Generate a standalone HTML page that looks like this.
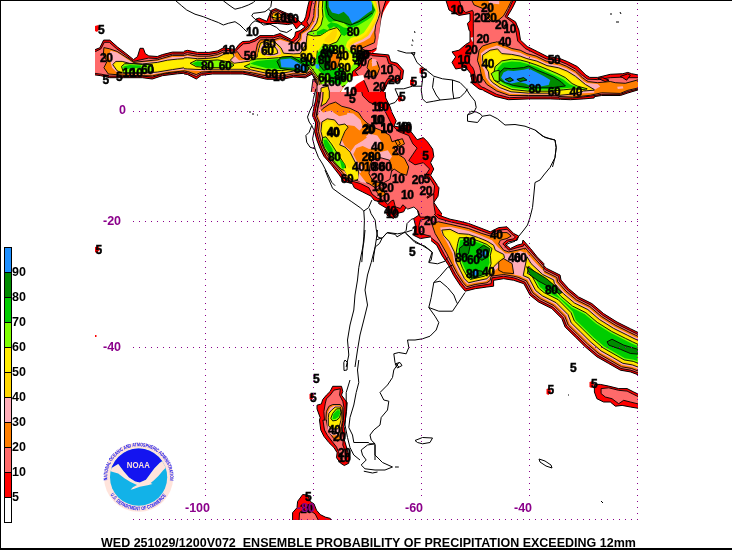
<!DOCTYPE html>
<html><head><meta charset="utf-8"><title>Ensemble probability of precipitation</title>
<style>
html,body{margin:0;padding:0;background:#fff;}
body{width:732px;height:550px;overflow:hidden;font-family:"Liberation Sans",sans-serif;}
svg{display:block}
svg text{filter:blur(0px)}
.lg{font:bold 12.5px "Liberation Sans",sans-serif;fill:#000}
.gl{font:bold 12.5px "Liberation Sans",sans-serif;fill:#8b008b}
.cl{font:bold 12px "Liberation Sans",sans-serif;fill:#000;letter-spacing:-0.4px;stroke:#000;stroke-width:.45px}
.tt{font:bold 12.5px "Liberation Sans",sans-serif;fill:#000;white-space:pre}
.rt{font:bold 5.2px "Liberation Sans",sans-serif;fill:#1515f0}
</style></head><body>
<svg width="732" height="550" viewBox="0 0 732 550">
<rect width="732" height="550" fill="#fff"/>
<defs><clipPath id="mapclip"><rect x="95" y="1" width="543" height="519"/></clipPath></defs>

<g clip-path="url(#mapclip)">
<defs><clipPath id="t0"><rect x="95" y="30" width="89" height="69"/></clipPath><clipPath id="t1"><rect x="184" y="20" width="66" height="79"/></clipPath><clipPath id="t2"><rect x="250" y="0" width="122" height="92"/></clipPath><clipPath id="t3"><rect x="372" y="0" width="70" height="92"/></clipPath><clipPath id="t4"><rect x="250" y="92" width="192" height="170"/></clipPath><clipPath id="t5"><rect x="431" y="214" width="207" height="206"/></clipPath><clipPath id="t6"><rect x="442" y="0" width="196" height="142"/></clipPath><clipPath id="t7"><rect x="290" y="370" width="92" height="119"/></clipPath><clipPath id="t8"><rect x="280" y="480" width="65" height="40"/></clipPath><clipPath id="t9"><rect x="95" y="1" width="543" height="519"/></clipPath></defs>
<g clip-path="url(#t0)">
<path d="M92,50.1 95.1,49.6 99.8,47.8 103.6,40.1 109.8,40.1 117.6,47.1 125.9,53.4 133.5,59.6 137.5,56.6 140,48.3 143.3,48.3 145.3,53.6 148.8,55.9 157.3,56.5 162.4,54.6 172.4,52.1 185,52.1 185,73.2 177.4,73.8 162.4,75.7 152.3,79 142.3,77.7 123.4,77.7 109.6,77.7 100.8,75.7 92,74.5Z" fill="#ff0000" stroke="#000" stroke-width="1.0" stroke-linejoin="round"/>
<path d="M92,51.6 95.8,51.4 101,48.8 104.3,42.3 109.3,42.3 116.6,48.8 125.4,55.1 133.5,61.4 148.5,58.1 157.3,58.5 162.4,56.6 172.4,54.1 185,54.1 185,71.7 177.4,72.3 162.4,74.2 152.3,77.1 142.3,76.1 123.4,76.1 109.6,76.1 101.3,74.2 92,73Z" fill="#ff6a6a" stroke="#000" stroke-width="0.9" stroke-linejoin="round"/>
<path d="M103.9,47.6 109.6,48.8 117.1,51.4 129.7,59.5 133.5,62.4 157.3,59.8 172.4,55.4 185,55.4 185,70.8 167.4,72.7 152.3,75.9 123.4,75.2 108.3,74 103.9,67.7 107.1,61.4 103.3,55.1Z" fill="#ff7f00" stroke="#000" stroke-width="0.9" stroke-linejoin="round"/>
<path d="M110.8,50.7 117.1,52.6 124.7,57.6 133.5,63.2 157.3,61 172.4,57 185,56.6 185,69.6 167.4,71.5 152.3,74.6 129.7,74.2 117.1,72.7 112.1,67.7 110.8,62.7 108.3,55.1Z" fill="#ffaeb9"/>
<path d="M112.7,64.5 115.9,61.4 122.2,61.4 129.7,63.4 142.3,63.9 157.3,62.4 167.4,60.2 177.4,59.1 185,58.6 185,67.7 172.4,69.6 157.3,72.1 142.3,73.3 123.4,73.3 117.1,70.8Z" fill="#ffd700" stroke="#000" stroke-width="0.9" stroke-linejoin="round"/>
<path d="M114.6,64.9 117.1,62.7 122.2,62.7 129.7,64.4 142.3,64.9 157.3,63.4 167.4,61.2 177.4,60.2 185,59.6 185,66.4 172.4,68.3 157.3,70.8 142.3,72.3 123.4,72.3 117.8,69.9Z" fill="#ffee00"/>
<path d="M121.5,66.4 124.7,63.7 133.5,63.7 142.3,64.5 152.3,64.5 153.6,71.5 142.3,72.7 123.4,72.7Z" fill="#7fff00" stroke="#000" stroke-width="0.9" stroke-linejoin="round"/>
<path d="M123.4,66.4 129.7,64.9 141,65.4 141,67.7 123.4,69.2Z" fill="#00cd00"/>
</g>
<g clip-path="url(#t1)">
<path d="M180,52.4 187.5,50.3 197.6,52.4 208.9,52.4 217.7,50.9 223.3,47.8 235.3,49.4 238.8,44.6 242.6,41.5 250.4,41.1 255.4,37.6 260.4,37.6 260.4,79 255.4,76.5 252.9,75.8 242.8,74 230.3,74 212.7,74 201.4,75.3 196.3,79 187.5,74.5 180,73.3Z" fill="#ff0000" stroke="#000" stroke-width="1.0" stroke-linejoin="round"/>
<path d="M180,54.5 187.5,52.7 197.6,54.5 208.9,54.5 217.7,52.9 223.3,50.2 235.3,51.4 239.7,47 243.4,43.9 250.4,43.2 255.4,40.1 260.4,40.1 260.4,77.2 255.4,74.9 242.8,72.1 230.3,72.1 212.7,72.1 201.4,73.4 196.3,76.5 187.5,72.8 180,71.5Z" fill="#ff6a6a" stroke="#000" stroke-width="0.9" stroke-linejoin="round"/>
<path d="M180,56.4 187.5,54.5 197.6,56.2 208.9,56.2 217.7,54.5 223.3,52 235.3,52.9 237.2,51.4 241.6,57.7 245.3,59.2 250.4,58.7 260.4,57.2 260.4,75.3 255.4,73.6 242.8,71.3 230.3,71.3 212.7,71.3 201.4,72.1 196.3,74.6 187.5,71.5 180,70.3Z" fill="#ff7f00" stroke="#000" stroke-width="0.9" stroke-linejoin="round"/>
<path d="M180,57.4 187.5,55.8 197.6,57.4 208.9,57.4 217.7,55.8 223.3,53.3 227.7,52 234,52.9 235.3,56.4 239,60.2 250.4,59.9 260.4,58.3 260.4,73.4 255.4,72.4 242.8,70.3 230.3,70.3 212.7,70.3 201.4,70.9 187.5,70.3 180,69.2Z" fill="#ffaeb9"/>
<path d="M180,58.3 187.5,57.7 197.6,58.7 208.9,58.3 217.7,57.1 223.3,54.5 227.7,52.9 233.4,53.7 234,56.4 230.3,60.2 234,63.3 240.3,62.5 260.4,59.4 260.4,71.5 255.4,70.9 242.8,69.2 230.3,69.2 212.7,69.2 201.4,69.6 187.5,69 180,68.4Z" fill="#ffd700" stroke="#000" stroke-width="0.9" stroke-linejoin="round"/>
<path d="M180,59.6 187.5,58.9 197.6,59.9 208.9,59.6 217.7,58.3 221.5,57.7 225.2,58.9 230.3,61.5 232.8,64 240.3,63.3 260.4,60.5 260.4,70.3 255.4,69.6 242.8,68.4 230.3,68.4 212.7,68.4 201.4,68.7 187.5,67.7 180,67.1Z" fill="#ffee00"/>
<path d="M190.1,63.3 196.3,60.2 208.9,60.5 217.7,59.9 230.3,62.1 234,65.2 230.3,67.7 208.9,67.7 196.3,66.7Z M244.1,66.5 250.4,63.5 260.4,60.5 260.4,70.3 250.4,69Z" fill="#7fff00" stroke="#000" stroke-width="0.9" stroke-linejoin="round"/>
<path d="M192.6,63.3 197.6,61.2 202.6,62.1 201.4,65.9 196.3,65.9Z M251.6,66.5 260.4,63.3 260.4,69.6Z" fill="#00cd00"/>
</g>
<g clip-path="url(#t2)">
<path d="M309.9,-1.7 307.7,6.7 305.7,16.7 303.9,20.9 300.2,23.4 305.2,26.8 300.2,30.5 295.5,32.1 294.9,36 291.8,39.8 280.1,33.5 273.4,35.6 260,35.6 255,39 248.3,41.5 248.3,74.8 266.7,79.3 281.8,79.3 293.5,77 305.2,77.8 312.3,74 314.9,80.3 316.1,93.7 373.8,93.7 373.8,-1.7Z" fill="#ff0000" stroke="#000" stroke-width="1.0" stroke-linejoin="round"/>
<path d="M312.9,-1.7 310.9,6.7 309.2,16.7 306.9,21.8 308.6,25.1 305.2,29.3 299.4,33.5 298.5,37.7 293.2,42.2 280.1,36 273.4,37.8 260,37.8 255,41.2 248.3,43.5 248.3,73.3 266.7,77.7 281.8,77.7 293.5,75.3 305.2,76.2 311.3,72.3 315.9,80.3 317.3,93.7 373.8,93.7 373.8,-1.7Z" fill="#ff6a6a" stroke="#000" stroke-width="0.9" stroke-linejoin="round"/>
<path d="M315.9,-1.7 314.3,8.4 313.6,16.7 311.9,21.4 307.7,28.5 300.5,33.5 299.9,38.8 295.5,43.5 280.1,37.8 273.4,39.8 260.4,39.8 257.5,43.8 255,55.2 248.3,56.1 248.3,72 266.7,76 281.8,76 293.5,73.8 305.2,74.6 310.6,71.1 316.9,80.3 318.6,93.7 373.8,93.7 373.8,-1.7Z" fill="#ff7f00" stroke="#000" stroke-width="0.9" stroke-linejoin="round"/>
<path d="M317.6,-1.7 316.3,8.4 315.9,16.7 314.3,22.1 309.6,29.5 302.2,34.1 301.5,39.8 297.2,44.9 280.1,39.7 273.4,41.7 262.7,41.7 258.7,45.2 256.7,56.1 248.3,56.9 248.3,70.6 266.7,74.6 281.8,74.6 293.5,72.5 305.2,73.3 310.3,70 317.8,80.3 319.6,93.7 373.8,93.7 373.8,-1.7Z" fill="#ffaeb9"/>
<path d="M319.3,-1.7 318.3,8.4 318.3,16.7 316.6,22.8 311.6,30.1 306.9,36 306.2,43.5 303.2,48.5 300.2,53.6 293.5,53.9 283.5,53.2 281.1,47.9 275.1,42.2 266.7,40.5 260.4,43.2 258.4,50.2 257.5,56.9 248.3,57.7 248.3,69.3 266.7,73.3 281.8,73.3 293.5,71.1 305.2,72 309.9,68.6 318.6,80.3 320.6,93.7 373.8,93.7 373.8,-1.7Z" fill="#ffd700" stroke="#000" stroke-width="0.9" stroke-linejoin="round"/>
<path d="M262.6,43.8 266.7,42.2 274.8,43.8 279.5,48.9 281.1,53.9 275.1,56.1 266.7,56.1 261,53.2 259.7,48.5Z" fill="#ffaeb9"/>
<path d="M264.7,45.5 268.4,43.8 273.8,45.5 277.1,49.9 277.8,53.2 273.4,54.6 267.7,54.6 263.4,51.9 262.7,48.5Z" fill="#ffd700" stroke="#000" stroke-width="0.9" stroke-linejoin="round"/>
<path d="M321,-1.7 320.3,8.4 320.3,16.7 318.6,23.4 313.6,30.8 308.9,36.8 308.2,43.8 307.7,50.2 305.2,56.1 293.5,56.1 283.5,55.6 275.1,56.9 266.7,56.9 258.4,51.9 257.5,57.7 248.3,58.6 248.3,67.8 266.7,71.6 281.8,72 293.5,70 305.2,70.6 309.6,67.3 319.6,80.3 322,93.7 373.8,93.7 373.8,-1.7Z M265.9,46.9 268.7,45.2 273.1,46.9 275.8,50.2 276.1,52.6 273.1,53.6 268.4,53.6 265.1,51.2Z" fill="#ffee00"/>
<path d="M323,-1.7 322.3,8.4 323,16.7 321,25.1 316.9,30.1 308.6,32.1 306.9,34.3 313.6,36 320.3,35.5 328.7,30.1 337,27.6 341.7,33.5 337,41.8 328.7,45.2 322,43.8 317.3,50.2 316.9,57.7 312.3,62.8 300.2,57.7 288.5,56.6 278.5,57.7 266.7,58.6 256.7,58.9 248.3,60.6 248.3,66.6 266.7,70.3 281.8,70.6 293.5,69 305.2,69.5 310.3,66.6 320.3,80.3 323,93.7 373.8,93.7 373.8,-1.7Z" fill="#7fff00" stroke="#000" stroke-width="0.9" stroke-linejoin="round"/>
<path d="M322,37.7 328.7,33.5 337,29.3 339.5,33.5 336.2,41 328.7,43.8 323.6,43.2 318.6,50.2 311.9,51.9 308.9,46.9 313.6,40.2Z" fill="#ffee00"/>
<path d="M324.7,38.8 329.6,33.9 333.7,29.3 337.4,28.9 336.6,35.5 333.7,41.2 328,42.9 324.3,41.2Z" fill="#ffd700"/>
<path d="M325,-1.7 324.3,8.4 325.6,16.7 328.7,21.8 337,23.4 343.7,27.6 350.4,28.5 358.8,25.1 367.2,20.1 373.8,15.1 373.8,-1.7Z M316.9,31.8 323.6,28.8 328.7,30.5 322,34.3 316.9,35.1Z M327.1,25.2 332,21.6 337.8,21.1 343.5,22.4 348.4,27.3 348,33.4 344.3,35.9 340.7,34.3 339.4,28.1 333.7,26.5 329.6,28.9Z M320.6,30.6 323.9,29.8 325.1,32.2 321.4,33.4Z M256.7,61.1 266.7,59.9 278.5,58.9 286,56.9 300.2,58.6 312.3,63.6 308.6,66.1 293.5,67.8 281.8,69 266.7,68.3 256.7,65.6 250,63.6Z M316.9,53.6 323.6,48.5 330.3,47.7 337,50.2 340.4,56.9 337,66.9 330.3,73.6 323.6,75.3 318.6,70.3 316.1,61.9Z" fill="#00cd00"/>
<path d="M326.7,-1.7 326.3,6.7 328.7,15.1 333.7,19.7 343.7,22.6 350.4,25.1 358.8,21.8 367.2,16.7 373.8,11.7 373.8,-1.7Z M277,61.4 281.4,57 291.5,56.4 302.8,63.3 309,67.7 306.5,72.7 294,70.5 280.2,68.4Z M318.6,56.9 323.6,51.9 328.7,51 333.7,54.4 334.5,61.9 330.3,68.6 323.6,70.3 319.5,65.3Z" fill="#008b00" stroke="#000" stroke-width="0.9" stroke-linejoin="round"/>
<path d="M328.3,-1.7 328.7,6.7 332,12.6 338.7,14.2 343.7,11.7 348.7,16.7 352.1,23.4 358.8,20.1 367.2,13.4 373.8,9.2 373.8,-1.7Z M280.2,59.6 290.2,58.4 294,60.2 300.3,63.9 305.3,66.7 305.3,71.2 294,67.7 281.4,67.2Z M315.3,63.9 319.1,64.5 319.3,68.9 315.8,68.3Z" fill="#1e90ff"/>
<path d="M255.9,19.1 259.2,18 266.9,21.3 269.6,14.2 271.2,10.4 275.6,8.5 280,10.4 288.7,14.2 295.3,17.5 301.8,23.5 296.4,29 293.1,23.5 287.6,24.6 277.8,23.5 270.1,23.5 265.8,23.5 260.3,22.4Z" fill="#ff0000" stroke="#000" stroke-width="1.0" stroke-linejoin="round"/>
<path d="M270.7,14.8 272.3,11.5 276.1,10.1 280,11.8 287.6,15.3 293.1,18.6 294.7,21.9 288.7,22.4 277.8,21.9 270.7,21.3Z" fill="#ff6a6a" stroke="#000" stroke-width="0.9" stroke-linejoin="round"/>
<path d="M271.8,15.3 273.2,12.6 276.7,11.5 280,13.7 282.2,17.5 280,20.2 273.4,20.2Z" fill="#ff7f00" stroke="#000" stroke-width="0.9" stroke-linejoin="round"/>
<path d="M272.9,16.4 274.5,13.7 277.2,13.1 279.1,15.3 277.8,18.6 274,18.8Z" fill="#ffee00"/>
<path d="M370,-1.3 375.1,10.1 371.9,16.3 366.3,23.9 361.3,30.8 357.5,33.3 351.2,34.5 344.9,37.7 341.2,41.5 342.4,50.3 348.7,55.3 363.8,59 486.9,59 486.9,-2.5Z" fill="#7fff00"/>
<path d="M371.3,-1.3 376.3,11.3 373.8,17.6 368.2,26.4 363.8,32.7 358.7,35.8 351.2,37.7 347.4,41.5 345.5,46.5 348.7,50.3 363.8,52.8 363.8,59 486.9,59 486.9,-2.5Z" fill="#ffee00"/>
<path d="M373.8,-1.3 377.6,12.6 375.7,18.8 370.7,27.6 366.3,33.9 361.3,37.7 353.7,40.2 348.7,44 348.1,46.5 351.2,49 363.8,50.9 363.8,59 486.9,59 486.9,-2.5Z" fill="#ffd700"/>
<path d="M375.7,-1.3 378.8,12.6 377,20.1 372.6,28.9 368.2,35.8 362.5,39.6 355,42.7 349.9,45.9 352.5,48.4 363.8,50 363.8,59 486.9,59 486.9,-2.5Z" fill="#ffaeb9"/>
<path d="M377,-1.3 379.5,13.8 378.2,21.4 374.4,29.5 370,37.7 363.8,41.5 357.5,44 352.5,46.5 355,48.4 363.8,49.4 363.8,59 486.9,59 486.9,-2.5Z" fill="#ff7f00"/>
<path d="M378.2,-1.3 380.1,12.6 378.2,18.8 375.7,25.1 374.8,32.7 375.3,37.7 374.4,42.7 366.3,46.2 361.3,48.4 365,50.3 365,59 486.9,59 486.9,-2.5Z" fill="#ff6a6a" stroke="#000" stroke-width="0.9" stroke-linejoin="round"/>
<path d="M386.4,-1.3 383.9,6.3 382,12.6 380.7,25.1 379.5,35.2 377.6,47.7 371.3,50.5 366.3,50.8 366.3,59 486.9,59 486.9,-2.5Z" fill="#ff0000" stroke="#000" stroke-width="1.0" stroke-linejoin="round"/>
<path d="M391.4,-1.3 386.4,6.3 383.2,12.6 381.4,18.8 379.5,31.4 376.3,50.3 370,55.3 370,60.3 486.9,60.3 486.9,-3.8Z" fill="#ffffff"/>
<path d="M335,50.1 343.8,48.8 351.4,53.9 353.9,62.7 348.8,71.5 337.5,71.5 330,67.7 330,55.1Z" fill="#ffee00"/>
<path d="M330,53.9 336.3,52.6 340.1,58.9 337.5,67.7 330,70.2Z" fill="#ff7f00" stroke="#000" stroke-width="0.9" stroke-linejoin="round"/>
<path d="M330,71.5 337.5,67.7 343.8,68.9 345.1,77.7 341.3,84 330,85.3Z" fill="#00cd00"/>
<path d="M330,85.3 337.5,84 341.3,89 337.5,100.4 330,100.4Z" fill="#ffee00"/>
<path d="M337.5,89 345.1,85.3 348.8,89 345.1,100.4 336.3,100.4Z" fill="#ff7f00" stroke="#000" stroke-width="0.9" stroke-linejoin="round"/>
<path d="M352.6,71.5 358.9,66.4 362.9,55.1 367.7,53.2 389,53.2 395.3,61.4 400.4,67.7 404.1,77.7 400.4,85.3 389,89 385.3,100.4 341.3,100.4 343.8,87.8 351.4,80.3Z" fill="#ff0000" stroke="#000" stroke-width="1.0" stroke-linejoin="round"/>
<path d="M355.1,71.5 360.8,67.7 364.5,57 368.9,55.1 387.8,55.1 393.4,62.7 398.5,68.9 401.6,77.7 398.5,83.4 387.8,87.2 384,92.8 380.3,100.4 371.5,100.4 367.7,89 363.9,80.3 358.9,76.5Z" fill="#ff6a6a" stroke="#000" stroke-width="0.9" stroke-linejoin="round"/>
<path d="M367.1,67.7 368.9,60.2 374,57 385.3,57 387.2,62.7 384,68.9 377.7,71.5 370.2,72.1Z" fill="#ff7f00" stroke="#000" stroke-width="0.9" stroke-linejoin="round"/>
<path d="M371.5,62.7 374,58.3 384,57.9 385.3,62 380.3,64.5 374,65.8Z" fill="#ffaeb9"/>
<path d="M343.8,89 350.1,86.5 355.1,90.3 353.9,96.6 347.6,100.4 342.6,100.4Z" fill="#ff6a6a" stroke="#000" stroke-width="0.9" stroke-linejoin="round"/>
<path d="M371.2,52.1 376.7,52.9 373.3,55.1Z" fill="#ffffff"/>
<path d="M316,86 326,83 340,84 343,88 338,94 316,94Z" fill="#ffaeb9"/>
<path d="M321,88 328,86 330,94 321,94Z" fill="#ffd700" stroke="#000" stroke-width="0.9" stroke-linejoin="round"/>
<path d="M313,79 317,84 317,94 311,94Z" fill="#ff6a6a" stroke="#000" stroke-width="0.9" stroke-linejoin="round"/>
<path d="M353,76.5 363,75 364.5,79.5 357,84 351,90 347,96 341,99.5 338.5,96.5 343,88 349,81Z" fill="#ffffff"/>
</g>
<g clip-path="url(#t3)">
<path d="M371.3,-1.3 376.6,-1.3 376.6,17.6 371.3,17.6Z" fill="#008b00"/>
<path d="M370,-1.3 375.1,10.1 371.9,16.3 366.3,23.9 361.3,30.8 357.5,33.3 351.2,34.5 344.9,37.7 341.2,41.5 342.4,50.3 348.7,55.3 363.8,59 486.9,59 486.9,-2.5Z" fill="#7fff00"/>
<path d="M371.3,-1.3 376.3,11.3 373.8,17.6 368.2,26.4 363.8,32.7 358.7,35.8 351.2,37.7 347.4,41.5 345.5,46.5 348.7,50.3 363.8,52.8 363.8,59 486.9,59 486.9,-2.5Z" fill="#ffee00"/>
<path d="M373.8,-1.3 377.6,12.6 375.7,18.8 370.7,27.6 366.3,33.9 361.3,37.7 353.7,40.2 348.7,44 348.1,46.5 351.2,49 363.8,50.9 363.8,59 486.9,59 486.9,-2.5Z" fill="#ffd700"/>
<path d="M375.7,-1.3 378.8,12.6 377,20.1 372.6,28.9 368.2,35.8 362.5,39.6 355,42.7 349.9,45.9 352.5,48.4 363.8,50 363.8,59 486.9,59 486.9,-2.5Z" fill="#ffaeb9"/>
<path d="M377,-1.3 379.5,13.8 378.2,21.4 374.4,29.5 370,37.7 363.8,41.5 357.5,44 352.5,46.5 355,48.4 363.8,49.4 363.8,59 486.9,59 486.9,-2.5Z" fill="#ff7f00"/>
<path d="M378.2,-1.3 380.1,12.6 378.2,18.8 375.7,25.1 374.8,32.7 375.3,37.7 374.4,42.7 366.3,46.2 361.3,48.4 365,50.3 365,59 486.9,59 486.9,-2.5Z" fill="#ff6a6a" stroke="#000" stroke-width="0.9" stroke-linejoin="round"/>
<path d="M386.4,-1.3 383.9,6.3 382,12.6 380.7,25.1 379.5,35.2 377.6,47.7 371.3,50.5 366.3,50.8 366.3,59 486.9,59 486.9,-2.5Z" fill="#ff0000" stroke="#000" stroke-width="1.0" stroke-linejoin="round"/>
<path d="M391.4,-1.3 386.4,6.3 383.2,12.6 381.4,18.8 379.5,31.4 376.3,50.3 370,55.3 370,60.3 486.9,60.3 486.9,-3.8Z" fill="#ffffff"/>
<path d="M370.3,53.2 388.7,54.9 390.7,61.6 397.4,63.3 403.5,70.3 402.5,79 395.4,82.3 388.7,80.7 385.7,87.4 382,93.7 370.3,93.7Z" fill="#ff0000" stroke="#000" stroke-width="1.0" stroke-linejoin="round"/>
<path d="M370.3,55.6 386.7,56.9 388.7,63.6 395.4,65.6 400.8,71.1 399.8,77.3 394.6,80 387.9,78.3 383.7,85.4 379.5,93.7 370.3,93.7Z" fill="#ff6a6a" stroke="#000" stroke-width="0.9" stroke-linejoin="round"/>
<path d="M370.3,60.3 377,61.6 379.5,68.6 377,75.3 370.3,77Z" fill="#ff7f00" stroke="#000" stroke-width="0.9" stroke-linejoin="round"/>
<path d="M370.3,58.6 376.2,59.4 377,65.3 370.3,66.9Z" fill="#ffaeb9"/>
</g>
<g clip-path="url(#t4)">
<path d="M315.7,100 313.6,108.4 312.5,115.7 315.7,123 314.6,131.4 316.7,139.7 319.9,148.1 324,156.4 331.4,164.8 338.7,174.2 343.9,181.5 352.3,183.6 354.3,187.8 362.7,192 371.1,196.2 374.2,200.3 379.1,201.7 378.6,203.5 386.9,208.5 386.9,215.2 393.6,218.5 397,213.5 403.7,211.8 407,205.1 413.7,203.5 417.1,208.7 418.7,215.2 413.7,218.5 415.4,225.2 413.7,235.3 420.4,238.6 430.5,236.9 437.2,243.6 443.8,252 447.2,263.7 447.2,216.9 442.2,214.3 438,208.7 433.8,202.4 438,196.2 439,187.8 437.2,185.6 437.2,185.1 430.6,175.2 433.8,169 430.6,162.7 433.8,156.4 432.7,149.1 427.5,141.8 423.3,137.6 417.1,139.7 410.8,131.4 409.7,124 400.3,127.2 394.1,126.1 396.2,120.9 392,112.5 389.9,106.3 385.7,97.9 384.7,87.5 316.7,87.5Z" fill="#ff0000" stroke="#000" stroke-width="1.0" stroke-linejoin="round"/>
<path d="M341,99.5 338.5,96.5 343,88 349,81 353,76.5 363,75 364.5,79.5 357,84 351,90 347,96Z" fill="#ffffff"/>
<path d="M317.8,100 315.7,108.4 314.6,115.7 317.8,123 316.7,131.4 318.8,139.7 321.9,148.1 326.1,156.4 333.4,164.8 340.8,173.2 344.9,179.4 353.3,181.5 360.6,183.6 369,187.8 372.1,194.1 377.3,198.2 380.7,199.3 383.9,200.6 387.8,204.5 391.7,200.6 393.6,200.1 395.3,206.8 400.3,208.5 402.8,204.8 407.7,209.1 413.9,207 418.1,210.8 420.2,217.1 435.9,217.1 433.8,204.5 433.8,194.1 427.5,198.2 427.1,197.8 427.1,196.8 433.8,193.4 434.6,185.9 428.8,176.7 426.1,176.7 425.4,175.3 429.6,169 423.3,162.7 415,164.8 408.7,160.6 412.9,154.3 417.1,148.1 412.9,143.9 408.7,135.5 398.2,131.4 392,125.1 387.8,116.7 383.6,108.4 369,102.1 362.7,95.8 360.6,87.5 319.2,87.5Z M420.4,220.2 427.1,218.5 433.8,221.9 440.5,225.2 447.2,226.9 447.2,248.7 440.5,243.6 433.8,236.9 427.1,235.3 420.4,233.6 418.7,226.9Z" fill="#ff6a6a" stroke="#000" stroke-width="0.9" stroke-linejoin="round"/>
<path d="M437.2,226.9 443.8,225.2 447.2,226.1 447.2,236.9 440.5,234.4 437.2,231.1Z M320.9,87.5 319.9,100 317.8,108.4 316.7,115.7 323,108.4 329.3,104.2 335.5,102.1 341.8,106.3 350.2,108.4 358.5,112.5 362.7,118.8 366.9,123 373.2,127.2 383.6,131.4 389.9,135.5 392,141.8 398.2,139.7 400.3,143.9 394.1,148.1 398.2,154.3 404.5,158.5 408.7,166.9 406.6,175.3 400.3,173.2 394.1,169 389.9,173.2 383.6,177.3 381.5,183.6 375.3,187.8 369,183.6 362.7,181.5 354.8,180.3 346.4,178.2 342.2,172.3 334.9,164 327.6,155.6 323.4,147.7 320.5,139.7 318.4,131.4 319.4,123 316.3,115.7Z M395.1,140.8 402.4,138.7 404.5,143.9 398.2,147Z M375.3,189.9 381.5,187.8 385.7,194.1 380.5,197.2Z" fill="#ff7f00" stroke="#000" stroke-width="0.9" stroke-linejoin="round"/>
<path d="M322.6,87.5 321.5,100 319.4,108.4 323,112.5 331.4,110.5 338.7,115.7 344.9,112.5 353.3,113.6 360.6,119.9 362.7,127.2 358.5,131.4 352.3,129.3 344.9,131.4 341.8,139.7 344.9,146 350.2,150.2 347,156.4 353.3,162.7 357.5,171.1 360.6,175.3 366.9,183.6 360.6,181.9 355.6,179 347.7,176.9 343.5,171.5 336.2,163.1 328.8,154.8 324.7,147.2 321.7,139.7 319.6,131.4 320.7,123 318,115.7Z M369,133.4 377.3,135.5 381.5,141.8 377.3,148.1 369,149.1 362.7,146 356.4,148.1 353.3,154.3 356.4,160.6 362.7,166.9 360.6,173.2 354.3,169 349.1,160.6 350.2,152.3 355.4,144.9 362.7,139.7Z M379.4,152.3 387.8,150.2 392,156.4 387.8,162.7 380.5,160.6Z" fill="#ffaeb9"/>
<path d="M335.5,104.2 341.8,107.3 348.1,109.4 347,114.6 339.7,116.3 333.4,112.5Z M347,125.1 354.3,126.1 360.6,131.4 366.9,137.6 362.7,140.8 355.4,144.9 349.1,144.9 344.9,139.7 344.3,132.4Z" fill="#ff7f00"/>
<path d="M372.1,160.2 380.5,157.7 389.5,160.2 392,169 389.9,179.4 383.6,182.8 373.2,181.9 369,173.6 370,165.2Z" fill="#ff6a6a" stroke="#000" stroke-width="0.9" stroke-linejoin="round"/>
<path d="M323.4,87.5 322.6,100 320.9,106.3 326.1,103.1 329.3,97.9 329.3,87.5Z M321.9,121.9 327.2,118.8 334.5,119.9 338.7,125.1 344.9,124 348.1,127.2 344.9,131.4 341.8,138.7 339.7,144.9 344.9,147 350.2,152.3 355.4,162.7 358.5,171.1 357.5,180.1 350.2,178.6 344.7,170.7 337.4,162.3 330.1,153.9 325.9,146.8 323,139.7 320.9,131.4Z" fill="#ffd700" stroke="#000" stroke-width="0.9" stroke-linejoin="round"/>
<path d="M323,124 328.2,120.9 333.4,122.6 333.9,129.3 329.3,133.9 325.1,135.1 331.4,140.8 337.6,150.2 344.9,162.7 352.3,173.2 356,179.4 351,177.8 345.8,169.8 338.5,161.5 331.1,153.1 327,146 324,139.3 321.9,131.4Z" fill="#ffee00"/>
<path d="M322.6,137.6 325.9,136.8 331.4,143.9 338.7,155.4 344.9,164.8 346.4,171.5 340.8,169 331.4,158.5 324.7,148.5 322.2,141.8Z" fill="#7fff00" stroke="#000" stroke-width="0.9" stroke-linejoin="round"/>
<path d="M323.4,139.7 326.8,139.7 332.4,149.1 333.9,156 329.3,153.3 324.5,146Z M339.7,159.6 343.9,162.7 346,170.2 341.8,167.9Z" fill="#00cd00"/>
<path d="M343.4,168.3 346.8,175 353.5,180 358.5,178.4 357.7,171.7 356,168.3Z" fill="#ffee00"/>
</g>
<g clip-path="url(#t5)">
<path d="M418.3,238.5 428.4,238.5 436.7,245.2 441.8,255.2 448.5,265.3 453.5,275.3 460.2,285.4 465.2,291.2 475.2,288.7 486.9,287 493.6,286.2 493.6,280.3 503.7,278.7 513.7,280.3 523.8,283.7 530,295.2 538.4,301.9 551.8,308.6 561.8,318.6 565.1,327 575.2,336.9 585.2,346.8 596.9,356.8 608.7,363.5 620.4,370.2 630.4,371.9 637.1,374.4 650,380 650,338 637.1,332 630.4,328.7 617,322 603.6,313.6 591.9,303.6 578.5,296.9 568.5,288.5 561,280.1 560.1,275.1 546.7,268.4 543.8,265.7 543.8,263.6 537.2,256.9 530.5,248.5 523,240 522.2,243.9 517.1,245.2 510.4,248.5 505.4,244.4 508.7,241.8 517.1,240.2 518.7,236 513.7,233.5 507,226.8 498.7,227.6 490.3,231.8 481.9,228.5 468.5,223.4 458.5,220.9 450.1,219.2 438.4,215.1 430,205 438.4,200 436.7,190 430,183.3 418.3,183.3Z" fill="#ff0000" stroke="#000" stroke-width="1.0" stroke-linejoin="round"/>
<path d="M418.3,236 430,236.8 438.4,243.5 444.3,254.4 450.1,264.4 455.5,274.5 461.8,283.7 466,288.7 475.2,286.2 486.9,284.5 491.1,283.7 492,277.8 503.7,276.2 513.7,277.8 517.3,279 525.1,282.3 531.4,294 539.4,300.4 552.9,307.1 563.3,317.6 566.6,326 576.5,335.6 586.4,345.5 597.9,355.3 609.6,361.9 621,368.5 630.9,370.2 637.8,372.7 648.2,377.3 648.2,339.1 636.3,333.6 629.6,330.3 616.1,323.6 602.5,315.1 590.9,305.1 577.5,298.4 567.2,289.8 559.3,280.9 558.5,276.3 545.7,269.9 543.8,268.1 543.8,266.1 537.2,258.6 529.6,250.2 529.3,250 529,249.6 524.1,243.9 523.6,246 517.1,247.7 508.7,250.2 502.8,243.8 507,240.2 513.7,238.8 515.4,236.8 512.1,234.3 507,229.3 498.7,230.1 490.3,234 481.9,231 468.5,225.9 450.1,221.8 438.4,218.4 430,210 418.3,206.7Z" fill="#ff6a6a" stroke="#000" stroke-width="0.9" stroke-linejoin="round"/>
<path d="M435.1,233.5 440.1,241.8 446.8,253.6 451.8,263.6 457.2,273.6 463.2,282.8 466.9,286.7 475.2,284.5 486.9,282.8 490.3,280.3 491.1,276.2 503.7,274.5 513.7,276.2 519.2,277.6 519.1,277.8 526.4,280.9 532.8,292.8 540.3,298.8 553.9,305.6 564.9,316.6 568.2,325 577.7,334.3 587.6,344.1 599,353.8 610.5,360.4 621.6,366.8 631.3,368.4 638.4,371.1 646.4,374.5 646.4,340.3 635.5,335.2 628.8,331.9 615.2,325.1 601.5,316.5 589.9,306.6 576.5,299.9 566,291.1 557.6,281.7 556.9,277.5 544.6,271.4 543.8,270.6 543.8,268.6 537.2,261.1 528.8,251.9 528,251.4 527.6,250.6 525.1,247.8 524.8,249.2 523.8,248.5 517.1,250.2 508.7,251.9 503.7,250.2 498.7,243.8 500.3,240.2 507,238.5 511.2,236 507,232.6 498.7,232.6 490.3,236 481.9,233.5 468.5,228.5 450.1,224.3 438.4,221.8 431.7,223.4Z" fill="#ff7f00" stroke="#000" stroke-width="0.9" stroke-linejoin="round"/>
<path d="M441.8,233.5 447.6,243.5 452.6,253.6 454.3,263.6 458.8,272.8 464.4,281.2 467.7,284.5 475.2,282.8 486.1,281.2 489,278.7 492,273.6 498.7,266.9 503.7,270.3 513.7,274.5 521.3,276.2 521.2,276.7 527.6,279.5 534.2,291.7 541.3,297.3 555,304.2 566.4,315.6 569.7,324 579,333.1 588.9,342.8 600,352.4 611.4,358.8 622.3,365 631.8,366.7 639.1,369.4 644.6,371.8 644.6,341.4 634.8,336.9 628,333.5 614.4,326.7 600.4,318 588.9,308.1 575.5,301.4 564.7,292.4 556,282.6 555.3,278.7 543.8,273 543.8,271.1 535.5,262.8 527.5,254 526.2,251.8 525.9,253.1 520.4,251 513.7,253.6 505.4,253.6 497.8,246.9 492,240.2 481.9,236 468.5,231 450.1,226.8 440.1,227.6Z" fill="#ffaeb9"/>
<path d="M498.7,260.3 503.7,258.6 512.1,263.6 513.7,273.6 503.7,272.8 498.7,270.3Z" fill="#ff7f00" stroke="#000" stroke-width="0.9" stroke-linejoin="round"/>
<path d="M441.8,230.1 450.1,229.3 458.5,233.5 468.5,234.3 478.6,237.7 486.9,241 493.6,245.2 495.3,250.2 503.7,254.4 504.5,257.7 498.7,261.9 493.6,266.9 492,273.6 486.9,278.7 475.2,281.2 468.5,282.8 464.4,278.7 460.2,270.3 456,261.9 454.3,251.9 449.3,241.8 443.4,235.1Z M527,256.7 523.2,275.6 528.9,278 535.6,290.5 542.3,295.8 556.1,302.7 568,314.6 571.2,322.9 580.3,331.8 590.1,341.5 601.1,350.9 612.3,357.2 622.9,363.3 632.3,364.9 639.8,367.7 642.8,369 642.8,342.6 634,338.5 627.2,335.1 613.5,328.3 599.3,319.4 587.9,309.6 574.5,303 563.5,293.7 554.3,283.4 553.7,279.9 542.5,274.4 531,263.5Z" fill="#ffd700" stroke="#000" stroke-width="0.9" stroke-linejoin="round"/>
<path d="M444.3,231.8 450.1,231.5 459.3,235.5 468.5,236 478.6,239.3 486.9,242.7 492.8,246.9 494.5,251 502,255.2 502.3,257.2 497.8,260.3 492.3,266.1 490.6,272.8 486.1,277.3 475.2,279.7 469.4,281.2 465.5,277.3 461.5,269.5 457.7,261.1 456,251.9 451,241.8 445.1,236Z M527.8,261.7 525.3,274.6 530.2,276.6 537,289.3 543.3,294.3 557.1,301.2 569.5,313.6 572.8,321.9 581.5,330.5 591.3,340.2 602.1,349.4 613.2,355.7 623.5,361.6 632.7,363.2 640.5,366.1 641,366.3 641,343.7 633.2,340.1 626.4,336.8 612.6,329.9 598.3,320.9 586.9,311.2 573.5,304.5 562.2,295 552.6,284.2 552,281.1 541.5,275.9 529.6,264.7Z" fill="#ffee00"/>
<path d="M459.3,237.7 468.5,237.7 478.6,241 486.9,244.4 492,248.5 490.3,255.2 491.1,263.6 488.6,272 484.4,276.2 475.2,278.3 470.2,279.5 466.9,276.2 462.7,268.6 459.3,260.3 456,253.6 457.7,243.5Z M528.7,266.3 527.3,273.5 531.5,275.2 538.5,288.1 544.2,292.7 558.2,299.7 571,312.6 574.3,320.9 582.8,329.2 592.5,338.8 603.1,347.9 614,354.1 624.1,359.9 633.2,361.4 639.2,363.7 639.2,344.9 632.4,341.7 625.6,338.4 611.7,331.4 597.2,322.3 585.9,312.7 572.5,306 561,296.3 550.9,285 550.4,282.3 540.5,277.4Z" fill="#7fff00" stroke="#000" stroke-width="0.9" stroke-linejoin="round"/>
<path d="M460.2,240.2 468.5,239.3 478.6,242.7 486.1,246 490,250.2 488.6,255.2 489.5,262.8 486.9,270.3 483.3,274.5 475.2,276.7 471,277.3 468.2,274.5 464.4,267.8 461,259.4 458.2,252.7 459.3,245.2Z M529.4,272.4 532.8,273.8 539.9,287 545.2,291.2 559.3,298.2 572.6,311.5 575.8,319.9 584,327.9 593.7,337.5 604.2,346.4 614.9,352.6 624.7,358.2 633.7,359.7 637.4,361.1 637.4,346 631.7,343.4 624.8,340 610.8,333 596.1,323.8 584.9,314.2 571.5,307.5 559.7,297.6 549.2,285.8 548.8,283.5 539.4,278.8 529.9,269.9Z" fill="#00cd00"/>
<path d="M459.3,248.5 464.4,244.4 470.2,245.2 468.5,253.6 463.5,257.7 459.8,255.2Z M476.9,250.2 483.6,245.2 489.5,248.5 487.8,256.9 481.9,260.3 477.7,256.9Z M469.4,274.5 475.2,270.3 481.9,271.1 483.6,274.5 475.2,277.3 471,278.3Z M526.7,266.7 530,268.7 536.7,272.6 546.7,278.8 555.1,286 561.8,292.7 559.3,293.8 551.8,289.3 546.7,285.5 538.4,281 530,275.1Z M607,341.8 612,339.2 623.7,345.1 640.5,350.1 640.5,354.3 630.4,353.5 620.4,349.3 608.7,345.1Z" fill="#008b00" stroke="#000" stroke-width="0.9" stroke-linejoin="round"/>
<path d="M480.6,252.7 484.4,250.2 486.6,252.7 484.4,256.9 481.1,257.7Z M472.2,272.8 476.1,270.6 478.6,272.3 476.1,275.3 472.7,275.6Z" fill="#1e90ff"/>
<path d="M594.4,384.4 600.3,384.4 608.7,386.1 618.7,388.6 627.1,388.6 633.8,392 640.5,395.3 640.5,408.7 630.4,407 622.1,405.4 615.4,406.2 610.3,402 603.6,402 596.9,398.7 594.4,392Z" fill="#ff0000" stroke="#000" stroke-width="1.0" stroke-linejoin="round"/>
<path d="M601.1,388.6 608.7,387.8 618.7,390.3 627.1,391.1 633.8,394.5 640.5,397.8 640.5,404.5 630.4,402 623.7,400.3 618.7,403.7 612,398.7 605.3,397 601.1,393.6Z" fill="#ff6a6a" stroke="#000" stroke-width="0.9" stroke-linejoin="round"/>
</g>
<g clip-path="url(#t6)">
<path d="M449,10 459,15.4 470,13.5 470,21 467.4,23.4 469.1,30.5 470,31.1 470,41.9 465.7,44.5 459,50.2 452,51.9 455.7,56.9 452,62.3 455.7,69 465.7,67.3 470.7,73.6 472.4,83.7 479.1,89 482.7,89.9 483.4,90.5 495.1,96.4 508.5,99.7 528.6,98.9 550.3,98.9 558.7,99.2 558.7,99.3 560,99.3 560.3,99.3 570.4,99.7 583.8,98.9 594.2,98 594.2,96.7 601.5,95.5 620.3,95.5 627.8,93 640.4,89.2 640.4,75.4 631.6,73.7 627.8,72.4 622.8,73.7 610.3,74.3 597.7,77.4 589.8,77.4 585.8,75 577.4,66.6 567.4,61.6 559,58.2 547.3,56.6 537.3,51.5 527.2,46.5 520.5,40.2 518.9,30.1 515.5,21.8 507.2,16.7 512.2,8.4 517.2,-1.7 499.2,-1.7 470,-1.7 445.3,-1.7Z" fill="#ff0000" stroke="#000" stroke-width="1.0" stroke-linejoin="round"/>
<path d="M470.7,37.7 476.6,36 479.1,39.3 472.4,41.8Z" fill="#ffffff"/>
<path d="M461.5,8.4 465.7,12.6 472.4,10.4 473.3,12.1 473.3,23.4 473.3,46.8 472.4,48.5 469.9,55.2 469.1,62.3 470.7,65.6 472.4,66.9 474.1,70.5 475,75.1 475.6,76.5 476.6,82 481.6,87 485.1,88.2 485.9,88.8 496.8,94.4 509.3,97.7 528.6,96.9 550.3,96.9 558.7,97.2 558.7,98 560,98 572.6,98 582.7,97 583.8,96.9 585.2,96.7 590.2,96.2 601.5,94.3 620.3,94.3 627.8,91.5 640.4,88.4 640.4,77.7 627.8,77.7 622.8,77.1 610.3,77.7 597.7,79.6 587.8,79.2 587.2,78.9 582.6,75.4 581.6,74.9 575.4,69 566.2,63.9 560.2,61.5 560,61.4 558.7,60.7 558.7,60.9 557.9,60.6 546.2,58.9 536.1,53.9 525.2,48.5 517.7,41 516,31 512.7,22.6 505.1,16.7 509.3,8.4 513.8,-1.7 499.2,-1.7 473.3,-1.7 459,-1.7Z" fill="#ff6a6a" stroke="#000" stroke-width="0.9" stroke-linejoin="round"/>
<path d="M597.7,78.3 602.7,77.7 609,80.2 605.2,81.5Z M620.3,76.4 627.8,73.9 630.4,75.2 626.6,80.2 622.8,77.7Z" fill="#ff0000" stroke="#000" stroke-width="1.0" stroke-linejoin="round"/>
<path d="M474.1,5 482.5,8.4 488.6,7.8 490.1,10 486.7,16.7 491.8,21.8 498.5,20.1 503.5,15.9 507.7,8.4 512.7,-1.7 499.2,-1.7 486.7,-1.7 470.7,-1.7Z M477.4,60.3 480,67.9 480,68.4 481.7,76.8 482.3,77.7 482.5,78.7 483.9,80.1 486.7,84.3 496.8,91 509.3,95.5 528.6,95.5 550.3,95.5 558.7,95.7 558.7,96.5 560,96.5 572.6,97.2 590.2,95.3 601.5,92.8 620.3,93.4 627.8,90.3 640.4,87.5 640.4,79.2 625.3,83.3 615.3,82.7 610.3,81.5 597.7,82.7 588.3,81.6 585.9,80.2 582.6,77.7 582.2,77.5 575.4,71.1 566.2,66.1 557.9,62.8 546.2,61.1 536.1,56.1 526.9,53.6 520.2,50.2 511.8,48.5 499.2,42.9 499.2,41.8 497.4,42 496.8,41.8 495.2,42.3 492.5,42.7 482.5,46 479.1,50.2Z" fill="#ff7f00" stroke="#000" stroke-width="0.9" stroke-linejoin="round"/>
<path d="M487.5,-1.7 489.2,3.3 499.2,4.2 499.2,-1.7Z M481.6,60.3 481.7,60.6 481.7,65.9 484.2,70.1 485.9,77.6 490.1,83.5 498.5,89.3 510.2,93.8 528.6,94.4 550.3,94.4 558.7,94.4 558.7,95.9 560,95.9 572.6,95.3 579.3,93.6 583.8,93.2 594.2,92.7 594.2,89.8 595.2,89.6 600.2,86.5 597.7,84 586.8,82.9 583.8,81.2 575.4,73.3 566.2,68.3 557.9,65.3 546.2,63.3 536.1,58.6 526.9,56.1 520.2,52.7 511.8,51 503.5,47.7 499.2,46.3 499.2,46 498.6,46.1 496.8,45.5 488.4,48.5 488.1,48.7 485.8,49.4 480.8,53.6Z M617.2,86.7 622.8,86.2 623.4,88.4 617.8,89Z" fill="#ffaeb9"/>
<path d="M483.4,63.4 488.4,71.8 489.2,78.5 492.6,82.6 500.1,87.7 511,91.8 528.6,93.2 550.3,93.2 558.7,93 558.7,95.3 560,95.3 572.6,94 582.6,91.5 583.3,91.1 583.8,91 594.2,90.2 594.2,89.5 585.5,84.5 575.4,76.2 567.1,71.1 558.7,67.8 547,65.6 536.9,61.1 526.9,58.6 520.2,56.1 511.8,54.4 501.8,53.6 497.6,48.9 490.1,50.2 482.6,55.2 482.6,60.2Z" fill="#ffd700" stroke="#000" stroke-width="0.9" stroke-linejoin="round"/>
<path d="M485.1,63.4 490.1,71.8 490.9,78.1 494.3,81.8 501,86.5 511.5,90.5 528.6,91.8 550.3,91.8 558.7,91.6 558.7,94 560,94 572.6,92.8 581.4,90.3 581.8,90 583.8,89.8 590.5,89.2 585.5,86.4 575.4,78.3 567.1,73 558.7,69.6 547,67.3 536.9,62.8 526.9,60.3 520.2,57.7 511.8,56.1 501,55.2 496.8,50.5 490.9,51.9 484.2,56.6 484.2,59.9Z" fill="#ffee00"/>
<path d="M493.4,75.1 495.1,66.7 501.8,60.9 511.8,59.2 520.2,60 526.9,61.7 536.9,65.1 547,69.2 557,73.4 565.4,77.6 572.1,83.5 577.1,86 587.2,88.8 585.5,89.8 573.8,88.8 563.7,89.8 550.3,91.2 528.6,91.2 511.8,89.5 501.8,85.1 495.1,81Z" fill="#7fff00" stroke="#000" stroke-width="0.9" stroke-linejoin="round"/>
<path d="M496.8,75.1 497.6,68.4 502.6,63.1 511.8,61.4 520.2,62.1 526.9,63.7 536.9,67.1 546.2,71.4 555.4,75.4 563.7,79.8 569.6,84.3 577.1,87.2 570.4,87.8 563.7,88.2 550.3,89.5 528.6,89.5 511.8,87.5 503.5,83.5 497.6,79.3Z" fill="#00cd00"/>
<path d="M498.5,76.8 500.1,71.8 504.3,68.1 511.8,68.7 523.6,67.6 528.6,65.9 536.9,70.1 545.3,73.4 553.7,77.1 561.2,81.8 565.4,86 550.3,87.8 528.6,87.8 513.5,85.5 505.1,82.6 500.1,80.1Z" fill="#008b00" stroke="#000" stroke-width="0.9" stroke-linejoin="round"/>
<path d="M501,77.6 503.5,72.6 507.7,70.4 513.5,70.9 523.6,69.7 528.6,68.4 536.9,72.6 543.6,75.9 550.3,80.1 548.7,85.1 540.3,86.5 530.3,86 525.2,83.5 518.5,82.1 511.8,83.5 505.1,82.1Z" fill="#1e90ff"/>
<path d="M505.1,79.3 510.2,77.6 513.5,80.1 509.3,81.8Z M516.9,79.3 523.6,77.6 526.9,80.1 520.2,81.5Z" fill="#008b00" stroke="#000" stroke-width="0.9" stroke-linejoin="round"/>
<path d="M491.2,73.6 495,71.1 499.2,70.3 499.2,82 494.2,80.3Z" fill="#7fff00" stroke="#000" stroke-width="0.9" stroke-linejoin="round"/>
</g>
<g clip-path="url(#t7)">
<path d="M332.7,386.3 341.5,386.3 342.8,391.4 341.5,395.1 345.3,400.2 347.2,402.7 346.5,411.5 345.3,420.3 344,426.5 345.3,432.8 345.3,433.8 344,438.8 345.9,445.1 348,452.7 349.3,457.7 348.7,463.3 344.3,465.5 340.3,463 336.5,457.7 337.1,452.7 334,447.6 328.9,442.6 323.9,436.3 320.8,430.1 319.5,420 320.2,417.7 317,408.9 317,405.2 321.4,403.9 322.7,399.5 326.4,395.1 330.2,391.4Z" fill="#ff0000" stroke="#000" stroke-width="1.0" stroke-linejoin="round"/>
<path d="M334,390.1 340.3,388.8 339.6,395.1 342.8,401.4 344,407.7 343.4,420.3 342.1,426.5 342.8,435.3 343.4,437.6 342.8,445.1 345.3,451.4 346.5,456.4 345.9,460.2 342.8,461.5 340.3,457.7 338.4,451.4 336.5,447 332.1,441.4 327.7,435.7 324.5,430.1 322.9,420 324.5,420.3 323.9,411.5 325.2,403.9 326.4,398.9 330.2,395.1Z" fill="#ff6a6a" stroke="#000" stroke-width="0.9" stroke-linejoin="round"/>
<path d="M328.9,406.4 332.7,404.5 340.3,404.5 342.8,407.7 342.8,420.3 341.5,426.5 340.9,435.3 340.9,437.6 340.3,438.8 337.7,441.4 334,438.8 330.2,433.8 327.7,427.5 326.4,420 325.8,420.3 326.4,411.5Z" fill="#ff7f00" stroke="#000" stroke-width="0.9" stroke-linejoin="round"/>
<path d="M330.2,407.7 334,405.8 339.6,405.8 341.5,408.9 341.5,420.3 340.3,426.5 339.6,435.3 331.5,435.3 327.7,430.3 327.1,420.3 327.7,412.7Z" fill="#ffaeb9"/>
<path d="M331.5,410.2 335.2,407.1 340.3,407.1 341.5,411.5 340.9,420.3 339.6,425.3 337.7,429 331.5,429 328.3,425.3 328.3,417.7 328.9,413.3Z" fill="#ffd700" stroke="#000" stroke-width="0.9" stroke-linejoin="round"/>
<path d="M332.1,410.8 335.9,407.7 340,407.7 340.9,412.1 340.3,419.6 339,424 337.1,427.2 332.1,427.2 329.2,424 329.2,418.4 329.9,414Z" fill="#ffee00"/>
<path d="M332.7,413.3 336.5,408.9 340.3,408.7 340.9,412.7 339.6,417.7 336.5,420.3 332.7,420.9 330.8,418.4Z" fill="#7fff00" stroke="#000" stroke-width="0.9" stroke-linejoin="round"/>
<path d="M333.3,414 337.1,410.2 339.6,410.2 340,413.3 338.4,417.1 335.2,419 332.7,419Z" fill="#00cd00"/>
</g>
<g clip-path="url(#t8)">
<path d="M292.6,522.8 292.6,512.7 297,507.7 297.6,501.4 302.7,494.5 307.7,495.1 310.2,501.4 314,503.9 316.5,510.2 320.3,514.6 325.3,517.1 330.3,518.4 332.2,522.8Z" fill="#ff0000" stroke="#000" stroke-width="1.0" stroke-linejoin="round"/>
<path d="M298.9,522.8 299.5,512.7 302.7,510.2 311.5,511.5 315.2,514 319.6,522.8Z" fill="#ff6a6a" stroke="#000" stroke-width="0.9" stroke-linejoin="round"/>
</g>
<g clip-path="url(#t9)">
<path d="M95,26 98.5,25 99.5,29 97,32 95,31Z M95,247 98.5,246 99.5,250 97,253 95,252Z M419.5,68 423,67 424,71 421.5,74 419.5,73Z M410,80 413.5,79 414.5,83 412,86 410,85Z M398,96 401.5,95 402.5,99 400,102 398,101Z M309.5,394 313,393 314,397 311.5,400 309.5,399Z M546.5,389 550,388 551,392 548.5,395 546.5,394Z M589.5,382 593,381 594,385 591.5,388 589.5,387Z M95,335 96.5,335 96.5,337 95,337Z" fill="#ff0000"/>
</g>
<path d="M175.8,0.8 181.7,5.8 186.7,10 195,14.2 203.3,16.7 211.7,20 218.3,22.5 223.3,25 228.3,23.3 235,21.7 240,25 243.3,28.3 246.7,31.7 248.3,28.3 251.7,23.3 255,20.8 260,22.5 263.3,25 270,24.2 276.7,27.5 280,30.8 286.7,32.5 292,29.2 M223.3,0.8 230,5.8 235,9.2 241.7,7.5 248.3,5 253.3,2.5 255,0.8 M271.7,0.8 270.8,6.7 268.3,9.2 265,11.7 260,12.5 253.3,13.3 251.7,15.8 255,19.2 260,22.5 M268.3,9.2 271.7,11.7 270,16.7 276.7,18.3 283.3,16.7 292,20 M397.5,50.5 406.2,53 412.5,53 417,62.5 421.2,66.2 426.2,70 433.8,76.2 442.5,78.8 452.5,80 460,82.5 466.2,88.8 470,95 475,101.2 476.2,107.5 473.8,112.5 467.5,115 467.5,121.2 477.5,122.5 482.5,116.2 490,115 497.5,118.8 505,125 515,124.5 525,126.2 535,130 545,137.5 555,140 556.2,147.5 555,157.5 552.5,167 M421.2,67.5 422.5,80 421.2,90 422.5,98.8 426.2,102.5 433.8,101.2 440,100 452.5,98.8 460,97.5 465,92.5 467.5,88.8 M433.8,77.5 432.5,87.5 436.2,95 440,100 M452.5,80 452.5,90 453.8,98.8 M395,88.8 403.8,88.8 412.5,86.2 421.2,86.2 M395,88.8 398.8,97.5 395,102.5 387.5,105 M467.5,115 471.2,111.2 476.2,112 480,113.8 482.5,116.2 M411.2,53 415,52.5 414,55.5 411.2,53 M414.5,31.2 415,33 M412.5,39.5 413,41.5 M411.8,44.5 412.2,46 M535,130 542.5,136.2 550,138.8 555,140 556.2,147.5 555,157.5 550,167.5 543.8,175 540,180 535,182.5 533.8,195 532.5,207.5 530,217.5 527.5,225 523.8,230 518.8,236.2 515,241.2 507.5,243.8 505,247.5 M365,230 363.8,242.5 361.2,255 358.8,267.5 357.5,280 355,295 353.8,310 350,325 347.5,340 348.8,355 346.2,367 M377.5,230 376.2,240 375,247.5 371.2,262.5 367.5,275 365,290 367.5,305 363.8,320 360,335 357.5,350 355,367 M376.2,240 382.5,237.5 387.5,232.5 397.5,233.8 405,232.5 410,237.5 415,242.5 425,246.2 432.5,252.5 431.2,260 428.8,262.5 437.5,263.8 445,261.2 447.5,257.5 M405,232.5 412.5,230 M452.5,265 447.5,267.5 440,276.2 433.8,282.5 431.2,297.5 428.8,307.5 438.8,311.2 452.5,311.2 457.5,303.8 465,292.5 M433.8,282.5 440,281.2 447.5,287.5 453.8,295 456.2,301.2 457.5,303.8 M428.8,307.5 435,316.2 438.8,322.5 436.2,330 430,336.2 422.5,338.8 415,340 407.5,340 408.8,347.5 406.2,353.8 398.8,352.5 393.8,353.8 395,362.5 398.8,367 M398.8,362.5 393.8,370 392.5,377.5 387.5,385 380,392.5 383.8,400 388.8,401.2 387.5,410 381.2,417.5 380,425 373.8,430 370,435 371.2,440 375,443.8 368.8,443.8 M395,363.8 400,362.5 402,365.5 397.5,368 395,363.8 M358.8,360 357.5,370 358.8,382.5 356.2,392.5 353.8,405 350,417.5 348.8,427.5 352.5,435 353.8,442.5 368.8,442.5 M343.8,362.5 345,360 347.5,362.5 347,370 344,370.5 343.8,362.5 M350,380 346.2,392.5 346.2,410 345,425 347.5,437.5 350,447.5 353.8,455 360,460 M361.2,450 367.5,445 375,443.8 375,455 382.5,462.5 392.5,467 385,470 375,470 365,468.8 361.2,465 366.2,460 362.5,455 361.2,450 M375,445 375,460 M415,440.5 422.5,437.5 432.5,438 430,442.5 422.5,443.8 417.5,442.5 415,440.5 M395,467 398.8,467 M363.8,471.2 372.5,473 377.5,472 M325,170 328.4,178.4 332.6,188.4 341.8,195.1 351.8,201.8 360.2,207.7 363.8,211 364.4,220.2 363.8,236.9 362.7,250.3 361.8,262.1 M363.8,211 368.5,207.7 371.9,200.1 M369.4,208.5 371,213.5 375.2,220.2 376.1,228.6 377.7,236.9 381.9,238.6 M381.9,238.6 386.9,232.8 395.3,234.4 397,236.9 403.7,232.8 406.2,230.3 407,223.6 411.2,219.4 413.7,218.5 M381.9,238.6 379.4,243.6 375.2,247 373.6,257 373.2,262.1 M406.2,233.6 413.7,240.3 422.1,245.3 428.8,249.5 432.1,252 430.5,257 428.8,262.1 M315.9,88.7 313.4,98.7 312.6,105.4 310,110.4 307.5,117.1 309.2,122.1 311.7,125.5 309.2,132.2 305.9,135.5 306.7,142.2 310,147.2 315.1,148.9 318.4,157.3 322.6,164 326.8,172.3 331.8,182.4 335.1,185.7 M311.7,125.5 314.2,130.5 312.6,138.9 315.1,148.9 M249,112 251,112 M252,114 254,114 M257,115 258,115 M610,14 612,14 M620,12 621,14 M616,22 619,22 M539,459 545,461 551,465 552,468 546,466 540,462 539,459 M601,501 603,503 M568,395 569,395" fill="none" stroke="#000" stroke-width="1" stroke-linejoin="round"/>
<text x="98" y="33.5" class="cl">5</text>
<text x="100" y="62" class="cl">20</text>
<text x="122.5" y="77" class="cl">10</text>
<text x="130" y="77" class="cl">10</text>
<text x="141" y="73.5" class="cl">60</text>
<text x="102.5" y="84" class="cl">5</text>
<text x="116" y="81" class="cl">5</text>
<text x="201" y="69.5" class="cl">80</text>
<text x="218.7" y="69.5" class="cl">60</text>
<text x="222.5" y="53.5" class="cl">10</text>
<text x="243.7" y="60" class="cl">50</text>
<text x="261" y="55" class="cl">60</text>
<text x="246" y="36" class="cl">10</text>
<text x="265" y="77.5" class="cl">60</text>
<text x="95.5" y="254" class="cl">5</text>
<text x="346.7" y="36" class="cl">80</text>
<text x="322" y="53.5" class="cl">80</text>
<text x="332" y="53.5" class="cl">80</text>
<text x="288" y="51" class="cl">100</text>
<text x="294" y="72.5" class="cl">80</text>
<text x="318" y="64" class="cl">80</text>
<text x="324" y="70" class="cl">60</text>
<text x="318" y="82" class="cl">60</text>
<text x="322" y="86" class="cl">160</text>
<text x="338" y="72" class="cl">80</text>
<text x="340" y="82" class="cl">60</text>
<text x="355.5" y="58.7" class="cl">60</text>
<text x="357" y="58.7" class="cl">80</text>
<text x="352" y="62" class="cl">50</text>
<text x="380.5" y="73.7" class="cl">10</text>
<text x="388" y="83.7" class="cl">20</text>
<text x="364" y="78.7" class="cl">40</text>
<text x="373" y="91" class="cl">20</text>
<text x="344" y="96" class="cl">10</text>
<text x="349" y="102.5" class="cl">5</text>
<text x="371.7" y="111" class="cl">10</text>
<text x="370.5" y="123.7" class="cl">10</text>
<text x="361.7" y="133.7" class="cl">20</text>
<text x="380.5" y="132.5" class="cl">10</text>
<text x="399" y="132.5" class="cl">40</text>
<text x="326.7" y="136" class="cl">40</text>
<text x="420.5" y="77.5" class="cl">5</text>
<text x="410.5" y="86" class="cl">5</text>
<text x="399" y="101" class="cl">5</text>
<text x="273" y="81" class="cl">10</text>
<text x="263" y="48" class="cl">60</text>
<text x="320" y="58" class="cl">60</text>
<text x="334" y="80" class="cl">80</text>
<text x="336" y="60" class="cl">40</text>
<text x="350" y="54" class="cl">60</text>
<text x="354" y="66" class="cl">40</text>
<text x="274" y="22" class="cl">10</text>
<text x="281" y="22" class="cl">10</text>
<text x="286" y="23" class="cl">10</text>
<text x="303" y="66" class="cl">10</text>
<text x="300" y="62" class="cl">80</text>
<text x="376" y="110.5" class="cl">10</text>
<text x="372" y="124" class="cl">10</text>
<text x="362.7" y="133.4" class="cl">20</text>
<text x="380.5" y="132.4" class="cl">10</text>
<text x="399" y="131.4" class="cl">40</text>
<text x="396" y="131.4" class="cl">10</text>
<text x="327" y="136.6" class="cl">40</text>
<text x="371" y="151.2" class="cl">40</text>
<text x="392" y="155.4" class="cl">20</text>
<text x="328" y="160.6" class="cl">80</text>
<text x="361.7" y="160.6" class="cl">20</text>
<text x="368" y="160.6" class="cl">80</text>
<text x="352" y="171" class="cl">40</text>
<text x="364" y="171" class="cl">10</text>
<text x="372" y="171" class="cl">80</text>
<text x="379" y="171" class="cl">60</text>
<text x="371" y="181.5" class="cl">20</text>
<text x="392" y="182.6" class="cl">10</text>
<text x="411.8" y="183.6" class="cl">20</text>
<text x="423.5" y="183" class="cl">5</text>
<text x="340.8" y="182.6" class="cl">60</text>
<text x="372" y="191" class="cl">10</text>
<text x="381" y="192" class="cl">20</text>
<text x="401" y="199.3" class="cl">10</text>
<text x="419.5" y="195" class="cl">20</text>
<text x="377" y="202.4" class="cl">10</text>
<text x="384" y="215" class="cl">40</text>
<text x="386" y="218" class="cl">10</text>
<text x="422.3" y="159.6" class="cl">5</text>
<text x="412" y="235" class="cl">10</text>
<text x="424" y="225" class="cl">20</text>
<text x="409" y="256" class="cl">5</text>
<text x="463" y="246" class="cl">80</text>
<text x="455" y="262" class="cl">80</text>
<text x="467" y="264" class="cl">60</text>
<text x="476" y="258" class="cl">80</text>
<text x="466" y="278" class="cl">80</text>
<text x="482" y="276" class="cl">40</text>
<text x="490" y="239" class="cl">40</text>
<text x="508" y="262" class="cl">40</text>
<text x="514" y="262" class="cl">60</text>
<text x="545" y="294" class="cl">80</text>
<text x="570" y="372" class="cl">5</text>
<text x="547.5" y="394" class="cl">5</text>
<text x="591" y="388" class="cl">5</text>
<text x="450.7" y="14.2" class="cl">10</text>
<text x="481" y="11.7" class="cl">20</text>
<text x="474" y="21.8" class="cl">20</text>
<text x="484" y="21.8" class="cl">20</text>
<text x="495" y="28.5" class="cl">20</text>
<text x="503.5" y="32.6" class="cl">10</text>
<text x="476.6" y="42.7" class="cl">20</text>
<text x="498.5" y="46" class="cl">40</text>
<text x="465" y="54.4" class="cl">20</text>
<text x="457.4" y="63.6" class="cl">10</text>
<text x="460.7" y="71" class="cl">5</text>
<text x="481.6" y="67.8" class="cl">40</text>
<text x="470" y="82.8" class="cl">10</text>
<text x="528.6" y="92.7" class="cl">80</text>
<text x="547.8" y="96" class="cl">60</text>
<text x="569.6" y="96" class="cl">40</text>
<text x="547.8" y="64.4" class="cl">50</text>
<text x="313" y="383" class="cl">5</text>
<text x="310" y="401.5" class="cl">5</text>
<text x="328" y="434" class="cl">40</text>
<text x="333" y="441" class="cl">20</text>
<text x="338" y="457" class="cl">20</text>
<text x="338" y="462" class="cl">10</text>
<text x="305" y="501" class="cl">5</text>
<text x="300" y="513" class="cl">10</text>
</g>
<line x1="133" x2="638" y1="111.5" y2="111.5" stroke="#8b008b" stroke-width="1" stroke-dasharray="1 5"/>
<line x1="133" x2="638" y1="221.5" y2="221.5" stroke="#8b008b" stroke-width="1" stroke-dasharray="1 5"/>
<line x1="133" x2="638" y1="347.5" y2="347.5" stroke="#8b008b" stroke-width="1" stroke-dasharray="1 5"/>
<line x1="133" x2="638" y1="519.5" y2="519.5" stroke="#8b008b" stroke-width="1" stroke-dasharray="1 5"/>
<line x1="205.5" x2="205.5" y1="3" y2="500" stroke="#8b008b" stroke-width="1" stroke-dasharray="1 5"/>
<line x1="313.5" x2="313.5" y1="3" y2="500" stroke="#8b008b" stroke-width="1" stroke-dasharray="1 5"/>
<line x1="421.5" x2="421.5" y1="3" y2="500" stroke="#8b008b" stroke-width="1" stroke-dasharray="1 5"/>
<line x1="529.5" x2="529.5" y1="3" y2="500" stroke="#8b008b" stroke-width="1" stroke-dasharray="1 5"/>
<line x1="637.5" x2="637.5" y1="3" y2="520" stroke="#8b008b" stroke-width="1" stroke-dasharray="1 5"/>
<text x="119" y="114" class="gl">0</text>
<text x="103" y="225" class="gl">-20</text>
<text x="103" y="351" class="gl">-40</text>
<text x="185" y="512" class="gl">-100</text>
<text x="297" y="512" class="gl">-80</text>
<text x="405" y="512" class="gl">-60</text>
<text x="514" y="512" class="gl">-40</text>
<g>
<circle cx="138.6" cy="477.2" r="34.6" fill="#ffe4dc"/>
<defs><clipPath id="nin"><circle cx="138.6" cy="477.2" r="28.6"/></clipPath>
<path id="ring" d="M 107.4 481.2 A 31.4 31.4 0 1 1 169.8 481.2"/>
<path id="ring2" d="M 108.1 490.2 A 33.2 33.2 0 0 0 169.1 490.2"/></defs>
<g clip-path="url(#nin)">
<rect x="100" y="440" width="80" height="80" fill="#12b2e8"/>
<polygon points="109.7,469.3 118.2,464.1 123.6,471.3 129.0,477.5 135.2,481.4 139.8,482.6 146.0,479.8 150.6,473.6 154.5,468.2 159.9,462.8 164.6,459.4 168.4,462.8 175.4,458.2 175.4,441.2 104.3,441.2 104.3,469.3" fill="#1414f0"/>
<polygon points="109.7,469.3 118.2,464.1 123.6,471.3 129.0,477.5 135.2,481.4 139.8,482.6 146.0,479.8 150.6,473.6 154.5,468.2 159.9,462.8 164.6,459.4 168.4,462.8 168.4,465.1 163.0,470.5 158.4,476.0 153.7,480.6 150.6,482.9 152.5,484.1 147.6,485.2 139.8,486.8 133.6,489.1 130.5,489.7 132.9,487.2 137.0,485.1 130.5,482.1 124.4,478.3 118.2,473.6 111.2,471.5" fill="#ffe4dc"/>
</g>
<text x="138.29999999999998" y="467.6" text-anchor="middle" style="font:bold 9.5px 'Liberation Sans',sans-serif;fill:#ffe4dc" textLength="23" lengthAdjust="spacingAndGlyphs">NOAA</text>
<text class="rt"><textPath href="#ring" startOffset="1" textLength="104" lengthAdjust="spacingAndGlyphs">NATIONAL OCEANIC AND ATMOSPHERIC ADMINISTRATION</textPath></text>
<text class="rt"><textPath href="#ring2" startOffset="5" textLength="66" lengthAdjust="spacingAndGlyphs">U.S. DEPARTMENT OF COMMERCE</textPath></text>
</g>
<rect x="4.5" y="247.5" width="7" height="25" fill="#1e90ff" stroke="#000" stroke-width="1"/>
<rect x="4.5" y="272.5" width="7" height="25" fill="#008b00" stroke="#000" stroke-width="1"/>
<rect x="4.5" y="297.5" width="7" height="25" fill="#00cd00" stroke="#000" stroke-width="1"/>
<rect x="4.5" y="322.5" width="7" height="25" fill="#7fff00" stroke="#000" stroke-width="1"/>
<rect x="4.5" y="347.5" width="7" height="25" fill="#ffec00" stroke="#000" stroke-width="1"/>
<rect x="4.5" y="372.5" width="7" height="25" fill="#ffd700" stroke="#000" stroke-width="1"/>
<rect x="4.5" y="397.5" width="7" height="25" fill="#ffaeb9" stroke="#000" stroke-width="1"/>
<rect x="4.5" y="422.5" width="7" height="25" fill="#ff7f00" stroke="#000" stroke-width="1"/>
<rect x="4.5" y="447.5" width="7" height="25" fill="#ff6a6a" stroke="#000" stroke-width="1"/>
<rect x="4.5" y="472.5" width="7" height="25" fill="#ff0000" stroke="#000" stroke-width="1"/>
<rect x="4.5" y="497.5" width="7" height="25" fill="#ffffff" stroke="#000" stroke-width="1"/>
<text x="12" y="275.5" class="lg">90</text>
<text x="12" y="300.5" class="lg">80</text>
<text x="12" y="325.5" class="lg">70</text>
<text x="12" y="350.5" class="lg">60</text>
<text x="12" y="375.5" class="lg">50</text>
<text x="12" y="400.5" class="lg">40</text>
<text x="12" y="425.5" class="lg">30</text>
<text x="12" y="450.5" class="lg">20</text>
<text x="12" y="475.5" class="lg">10</text>
<text x="12" y="500.5" class="lg">5</text>
<text x="101" y="547" class="tt" xml:space="preserve">WED 251029/1200V072  ENSEMBLE PROBABILITY OF PRECIPITATION EXCEEDING 12mm</text>
<rect x="0" y="0" width="732" height="1" fill="#000"/><rect x="0" y="0" width="1" height="550" fill="#000"/><rect x="0" y="548" width="732" height="2" fill="#000"/>
</svg></body></html>
